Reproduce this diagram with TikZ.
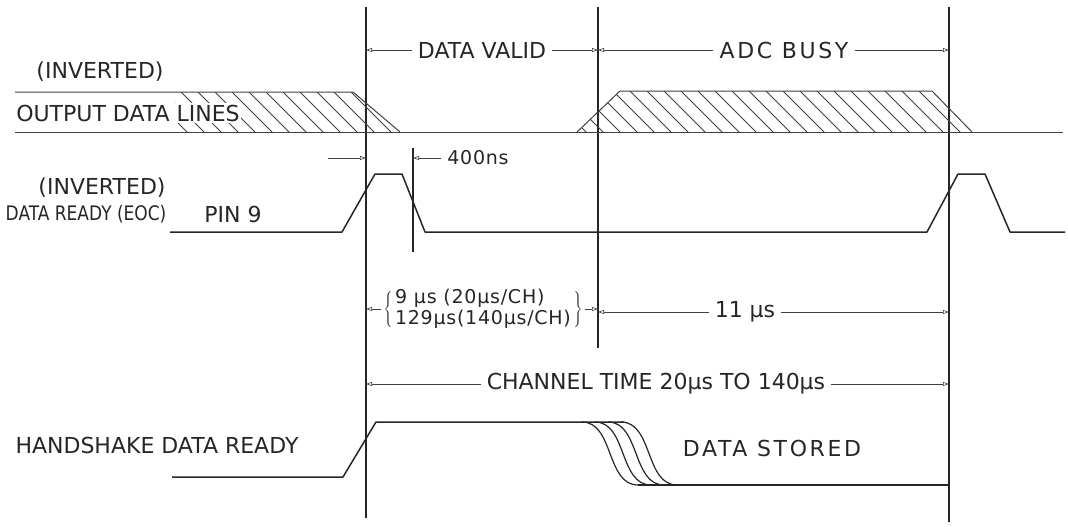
\documentclass[tikz,border=0pt]{standalone}
\usepackage{fontspec}
\usepackage{graphicx}
\setmainfont{DejaVu Sans}
\newfontfamily\widefont[LetterSpace=12]{DejaVu Sans}
\newfontfamily\midfont[LetterSpace=4]{DejaVu Sans}
\usetikzlibrary{arrows.meta}
\tikzset{
  vline/.style={line width=2pt, black!85},
  sig/.style={line width=1.5pt, black!85, line join=round},
  dline/.style={line width=1pt, black!75, line join=round},
  hatchline/.style={line width=0.8pt, black!75},
  dim/.style={line width=0.6pt, black!75, -{Triangle[open,length=6pt,width=4pt]}, shorten <=6pt},
  lab/.style={inner sep=0pt, black!85, font=\fontsize{22}{26}\selectfont},
  smlab/.style={inner sep=0pt, black!85, font=\midfont\fontsize{19}{21}\selectfont},
}
\begin{document}
\begin{tikzpicture}[x=1pt,y=-1pt]
\useasboundingbox (0,0) rectangle (1068,527);

% vertical marker lines
\coordinate (v1t) at (366,7);   \coordinate (v1b) at (366,518);
\coordinate (v2t) at (598,7);   \coordinate (v2b) at (598,348);
\coordinate (v3t) at (949,7);   \coordinate (v3b) at (949,522);
\coordinate (v4t) at (413,148); \coordinate (v4b) at (413,252);
\draw[vline] (v1t) -- (v1b);
\draw[vline] (v2t) -- (v2b);
\draw[vline] (v3t) -- (v3b);
\draw[line width=1.2pt, black!85] (v4t) -- (v4b);

% top dimension labels
\coordinate (a1) at (366,50); \coordinate (a2) at (598,50); \coordinate (a3) at (949,50);
\node[lab] (dv) at (482,50) {DATA VALID};
\node[lab, font=\widefont\fontsize{22}{26}\selectfont] (busy) at (784,50) {ADC BUSY};
\draw[dim] (dv.west) -- (a1);
\draw[dim] (dv.east) -- (a2);
\draw[dim] (busy.west) -- (a2);
\draw[dim] (busy.east) -- (a3);

% output data lines
\begin{scope}
  \clip (175,92) -- (353,92) -- (400,132) -- (175,132) -- cycle;
  \foreach \x in {130,147,...,420} \draw[hatchline] (\x,92) -- ++(40,40);
\end{scope}
\begin{scope}
  \clip (577,132) -- (620,91) -- (932,91) -- (972,132) -- cycle;
  \foreach \x in {545,562,...,980} \draw[hatchline] (\x,91) -- ++(41,41);
\end{scope}
\draw[dline] (15,92) -- (353,92) -- (400,132);
\draw[dline] (15,132) -- (1063,132);
\draw[dline] (577,132) -- (620,91) -- (932,91) -- (972,132);

\node[lab] (inv1) at (100,72) {(INVERTED)};
\node[lab, fill=white, inner sep=1.5pt] (odl) at (128,113) {OUTPUT DATA LINES};

% data ready (EOC)
\node[lab] (inv2) at (102,188) {(INVERTED)};
\node[lab, font=\fontsize{20}{24}\selectfont] (drdy) at (86,214) {\scalebox{0.85}[1]{DATA READY (EOC)}};
\node[lab] (pin) at (233,214) {PIN 9};
\draw[sig] (170,232) -- (342,232) -- (375,174) -- (402,174) -- (425,232)
  -- (927,232) -- (958,174) -- (985,174) -- (1010,232) -- (1065,232);

% 400 ns
\coordinate (n1) at (328,158); \coordinate (n2) at (366,158); \coordinate (n3) at (413,158);
\node[smlab] (ns) at (478,158) {400ns};
\draw[dim, shorten <=0pt] (n1) -- (n2);
\draw[dim] (ns.west) -- (n3);

% conversion time
\coordinate (b1) at (366,309); \coordinate (b2) at (598,309); \coordinate (b3) at (949,312);
\node[smlab, align=left] (br) at (483,309) {9 μs (20μs/CH)\\129μs(140μs/CH)};
\node[smlab, anchor=east, xshift=-1pt] (lbr) at (br.west) {$\left\{\vcenter{\hbox{\rule{0pt}{36pt}}}\right.$};
\node[smlab, anchor=west, xshift=1pt] (rbr) at (br.east) {$\left.\vcenter{\hbox{\rule{0pt}{36pt}}}\right\}$};
\draw[dim, shorten <=2pt] (lbr.west) -- (b1);
\draw[dim, shorten <=2pt] (rbr.east) -- (b2);
\node[lab] (el) at (745,312) {11 μs};
\draw[dim] (el.west) -- (598,312);
\draw[dim] (el.east) -- (b3);

% channel time
\coordinate (c1) at (366,384); \coordinate (c2) at (949,384);
\node[lab] (ch) at (656,384) {CHANNEL TIME 20μs TO 140μs};
\draw[dim] (ch.west) -- (c1);
\draw[dim] (ch.east) -- (c2);

% handshake
\node[lab] (hs) at (157,445) {HANDSHAKE DATA READY};
\node[lab, font=\widefont\fontsize{22}{26}\selectfont] (ds) at (772,448) {DATA STORED};
\draw[sig] (172,477) -- (343,477) -- (376,422) -- (624,422);
\foreach \k in {0,1,2,3}
  \draw[sig, line width=1.2pt] (582+13*\k,422) .. controls (614+13*\k,422) and (606+13*\k,485) .. (638+13*\k,485);
\draw[sig] (638,485) -- (949,485);
\end{tikzpicture}
\end{document}
